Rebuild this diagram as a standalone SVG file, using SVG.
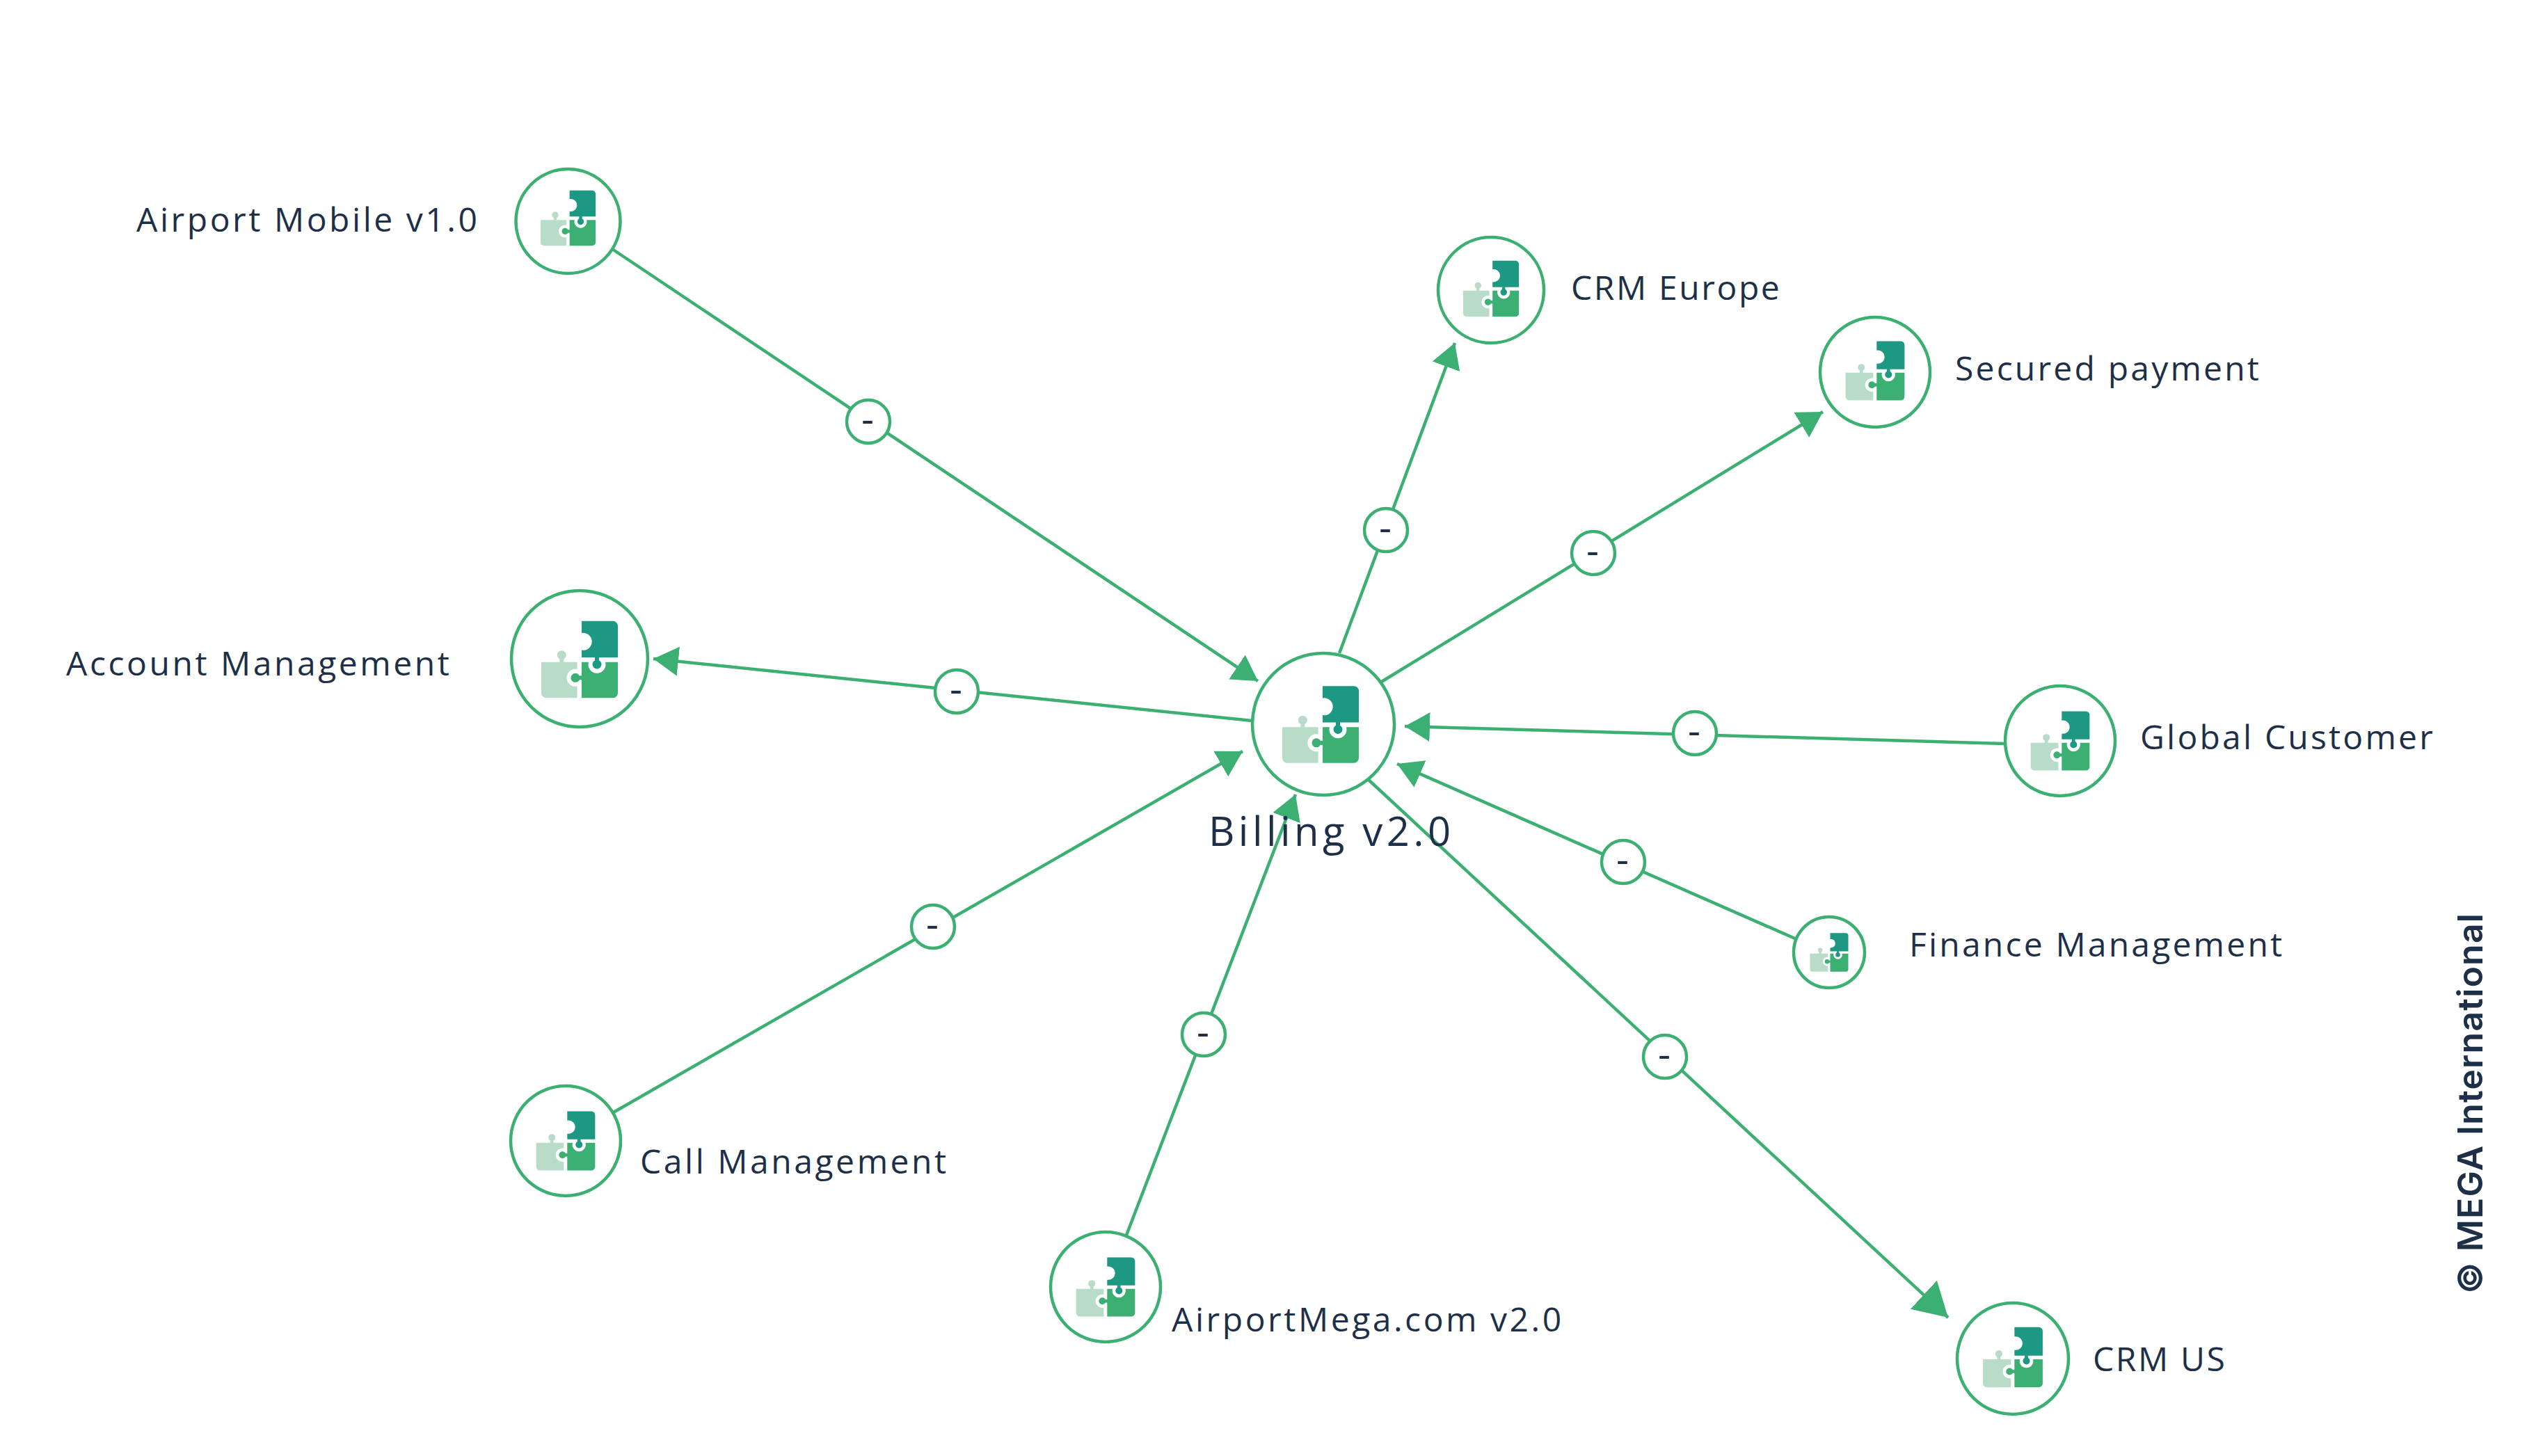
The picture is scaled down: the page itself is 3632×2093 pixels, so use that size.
<svg xmlns="http://www.w3.org/2000/svg" xmlns:xlink="http://www.w3.org/1999/xlink" width="3632" height="2093" viewBox="0 0 3632 2093">
<style>
.bg{fill:#fff}
.edge{fill:none;stroke:#3cb072;stroke-width:4.5}
.ring{fill:#fff;stroke:#3cb072;stroke-width:4.5}
.lbl{font-family:"Open Sans","Noto Sans",sans-serif;font-size:48px;letter-spacing:3.2px;fill:#1e3048}
.wide{letter-spacing:3.55px}
.tight{letter-spacing:2.6px}
.main{font-size:58px;letter-spacing:5.4px}
.dash{font-family:"Open Sans","Noto Sans",sans-serif;font-size:56px;fill:#1e3048;text-anchor:middle}
.copy{font-family:Inter,"Liberation Sans",sans-serif;font-size:50px;font-weight:600;letter-spacing:1.2px;fill:#1e3048}
.pd{fill:#1d9882}.pg{fill:#3cb072}.pl{fill:#b9dcc8}
</style>
<defs>
<marker id="arrow" markerUnits="userSpaceOnUse" markerWidth="38" markerHeight="44" refX="36" refY="21" orient="auto" viewBox="0 0 38 42"><path d="M0,0L36,21L0,42Z" fill="#3cb072"/></marker>
<marker id="arrowBig" markerUnits="userSpaceOnUse" markerWidth="50" markerHeight="58" refX="48" refY="28" orient="auto" viewBox="0 0 50 56"><path d="M0,0L48,28L0,56Z" fill="#3cb072"/></marker>
<g id="puzzle">
<path class="pd" d="M3,-55.3H48a7,7 0 0 1 7,7V-3H3V-13.4A12.5,12.5 0 1 0 3,-38Z"/>
<circle class="pd" cx="25" cy="7" r="6.5"/><rect class="pd" x="22" y="-3.5" width="6" height="6"/>
<path class="pg" d="M3,3.7H13A12.5,12.5 0 1 0 37,3.7H55V48.3a7,7 0 0 1 -7,7H3Z"/>
<circle class="pg" cx="-6" cy="26.3" r="6.5"/><rect class="pg" x="-3" y="23.3" width="7" height="6"/>
<path class="pl" d="M-55,3.7H-3.4V14.1A12.5,12.5 0 1 0 -3.4,38.5V55.3H-48a7,7 0 0 1 -7,-7Z"/>
<circle class="pl" cx="-25.7" cy="-6.3" r="6.5"/><rect class="pl" x="-28.7" y="-2" width="6" height="6"/>
</g>
</defs>
<rect class="bg" width="3632" height="2093"/>
<g id="connectors">
<line class="edge" x1="880" y1="358" x2="1808" y2="979" marker-end="url(#arrow)"/>
<line class="edge" x1="1925" y1="939" x2="2091" y2="493" marker-end="url(#arrow)"/>
<line class="edge" x1="1984" y1="981" x2="2620" y2="592" marker-end="url(#arrow)"/>
<line class="edge" x1="1799" y1="1036" x2="939" y2="947" marker-end="url(#arrow)"/>
<line class="edge" x1="2881" y1="1069" x2="2019" y2="1044" marker-end="url(#arrow)"/>
<line class="edge" x1="2582" y1="1350" x2="2008" y2="1098" marker-end="url(#arrow)"/>
<line class="edge" x1="880" y1="1600" x2="1786" y2="1080" marker-end="url(#arrow)"/>
<line class="edge" x1="1618" y1="1778" x2="1862" y2="1142" marker-end="url(#arrow)"/>
<line class="edge" x1="1967" y1="1121" x2="2800" y2="1894" marker-end="url(#arrowBig)"/>
</g>
<g id="edge-labels">
<g id="el1"><circle class="ring" cx="1248" cy="606" r="31"/><text class="dash" x="1247" y="622">-</text></g>
<g id="el2"><circle class="ring" cx="1375" cy="994" r="31"/><text class="dash" x="1374" y="1010">-</text></g>
<g id="el3"><circle class="ring" cx="1341" cy="1332" r="31"/><text class="dash" x="1340" y="1348">-</text></g>
<g id="el4"><circle class="ring" cx="1730" cy="1487" r="31"/><text class="dash" x="1729" y="1503">-</text></g>
<g id="el5"><circle class="ring" cx="1992" cy="762" r="31"/><text class="dash" x="1991" y="778">-</text></g>
<g id="el6"><circle class="ring" cx="2290" cy="795" r="31"/><text class="dash" x="2289" y="811">-</text></g>
<g id="el7"><circle class="ring" cx="2436" cy="1054" r="31"/><text class="dash" x="2435" y="1070">-</text></g>
<g id="el8"><circle class="ring" cx="2333" cy="1239" r="31"/><text class="dash" x="2332" y="1255">-</text></g>
<g id="el9"><circle class="ring" cx="2393" cy="1519" r="31"/><text class="dash" x="2392" y="1535">-</text></g>
</g>
<g id="node-airport-mobile"><circle class="ring" cx="816.5" cy="318" r="75"/><use xlink:href="#puzzle" href="#puzzle" transform="translate(816.5 313.5) scale(.72)"/><text class="lbl wide" x="196" y="333">Airport Mobile v1.0</text></g>
<g id="node-crm-europe"><circle class="ring" cx="2143" cy="417" r="76"/><use xlink:href="#puzzle" href="#puzzle" transform="translate(2143 415) scale(.73)"/><text class="lbl tight" x="2258" y="431">CRM Europe</text></g>
<g id="node-secured-payment"><circle class="ring" cx="2695" cy="535" r="79"/><use xlink:href="#puzzle" href="#puzzle" transform="translate(2695 533) scale(.77)"/><text class="lbl" x="2810" y="547">Secured payment</text></g>
<g id="node-account-management"><circle class="ring" cx="833" cy="947" r="98"/><use xlink:href="#puzzle" href="#puzzle" transform="translate(833 948) scale(1)"/><text class="lbl wide" x="95" y="971">Account Management</text></g>
<g id="node-global-customer"><circle class="ring" cx="2961" cy="1065" r="79"/><use xlink:href="#puzzle" href="#puzzle" transform="translate(2961 1065) scale(.77)"/><text class="lbl" x="3076" y="1077">Global Customer</text></g>
<g id="node-finance-management"><circle class="ring" cx="2629" cy="1369" r="51"/><use xlink:href="#puzzle" href="#puzzle" transform="translate(2629 1369) scale(.5)"/><text class="lbl" x="2744" y="1375">Finance Management</text></g>
<g id="node-call-management"><circle class="ring" cx="813" cy="1640" r="79"/><use xlink:href="#puzzle" href="#puzzle" transform="translate(813 1640) scale(.77)"/><text class="lbl wide" x="920" y="1687">Call Management</text></g>
<g id="node-airportmega"><circle class="ring" cx="1589" cy="1850" r="79"/><use xlink:href="#puzzle" href="#puzzle" transform="translate(1589 1850) scale(.77)"/><text class="lbl wide" x="1684" y="1914">AirportMega.com v2.0</text></g>
<g id="node-crm-us"><circle class="ring" cx="2893" cy="1953" r="80"/><use xlink:href="#puzzle" href="#puzzle" transform="translate(2893 1951) scale(.78)"/><text class="lbl tight" x="3008" y="1971">CRM US</text></g>
<g id="node-billing"><circle class="ring" cx="1902" cy="1041" r="102"/><use xlink:href="#puzzle" href="#puzzle" transform="translate(1898 1041.5)"/><text class="lbl main" x="1737" y="1216">Billing v2.0</text></g>
<text class="copy" transform="translate(3568 1860) rotate(-90)">© MEGA International</text>
</svg>
